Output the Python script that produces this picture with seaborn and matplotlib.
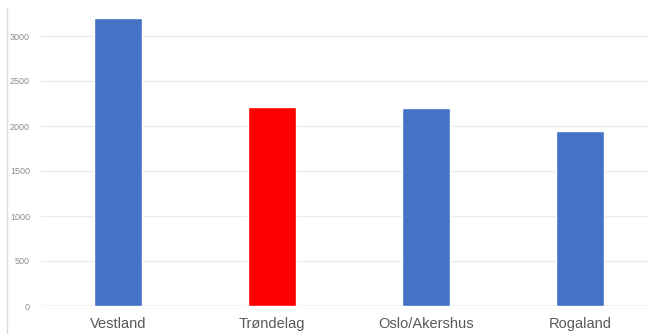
import pandas as pd
import matplotlib.pyplot as plt
import seaborn as sns
from matplotlib.lines import Line2D

# Values
regions = ['Vestland', 'Trøndelag', 'Oslo/Akershus', 'Rogaland']
values = [3200, 2215, 2205, 1950]
bar_colors = ['#4472C4', '#FF0000', '#4472C4', '#4472C4']
y_ticks = [0, 500, 1000, 1500, 2000, 2500, 3000]

df = pd.DataFrame({'Region': regions, 'Value': values})

sns.set_style('white')
plt.rcParams['font.family'] = ['Liberation Sans', 'DejaVu Sans']

fig = plt.figure(figsize=(6.48, 3.34), dpi=100)
ax = fig.add_axes([41 / 648, 28 / 334, 607 / 648, 306 / 334])

sns.barplot(data=df, x='Region', y='Value', hue='Region',
            palette=dict(zip(regions, bar_colors)), width=0.31,
            legend=False, ax=ax, saturation=1)

ax.set_xlim(-0.5, -0.5 + 607 / 154)
ax.set_ylim(0, 3400)
ax.set_yticks(y_ticks)
ax.set_yticklabels([str(t) for t in y_ticks])
ax.yaxis.grid(True, color='#ececec', linewidth=1)
ax.set_axisbelow(True)
ax.axhline(0, color='#d9d9d9', linewidth=1, zorder=0.5)

for s in ax.spines.values():
    s.set_visible(False)

ax.tick_params(axis='y', length=0, pad=8, labelsize=6.5, labelcolor='#8c8c8c')
ax.tick_params(axis='x', length=0, pad=8, labelsize=10.5, labelcolor='#595959')
ax.set_xlabel('')
ax.set_ylabel('')

# faint chart border at the left edge
fig.add_artist(Line2D([7 / 648, 7 / 648], [0, 1 - 8 / 334],
                      transform=fig.transFigure, color='#d9d9d9', linewidth=1))

fig.savefig('out.png', dpi=100)
